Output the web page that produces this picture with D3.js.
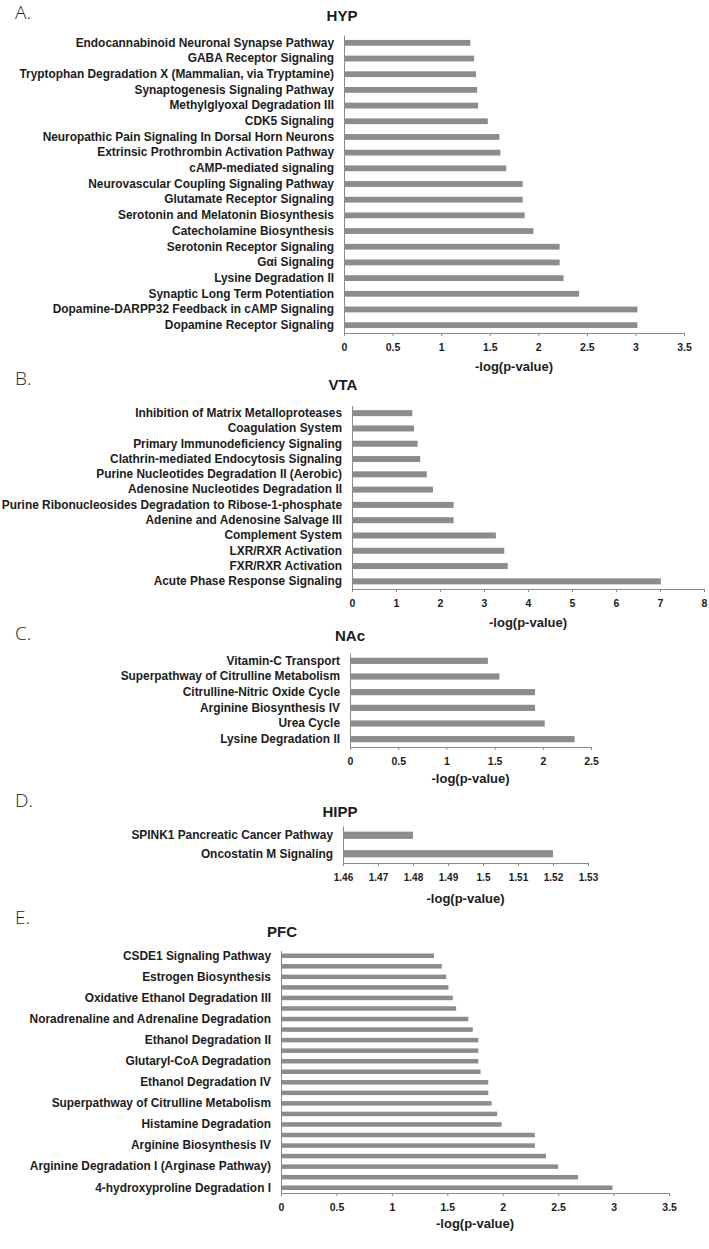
<!DOCTYPE html>
<html>
<head>
<meta charset="utf-8">
<script src="https://cdn.jsdelivr.net/npm/d3@7"></script>
<style>
  body { margin: 0; background: #fff; }
  svg text { font-family: "Liberation Sans", Arial, Helvetica, sans-serif; }
</style>
</head>
<body>
<svg id="fig" width="709" height="1249"></svg>
<script>
// ---- data (top to bottom, as in the figure) ----
var hypLabels = ["Endocannabinoid Neuronal Synapse Pathway", "GABA Receptor Signaling",
  "Tryptophan Degradation X (Mammalian, via Tryptamine)", "Synaptogenesis Signaling Pathway",
  "Methylglyoxal Degradation III", "CDK5 Signaling", "Neuropathic Pain Signaling In Dorsal Horn Neurons",
  "Extrinsic Prothrombin Activation Pathway", "cAMP-mediated signaling", "Neurovascular Coupling Signaling Pathway",
  "Glutamate Receptor Signaling", "Serotonin and Melatonin Biosynthesis", "Catecholamine Biosynthesis",
  "Serotonin Receptor Signaling", "G\u03b1i Signaling", "Lysine Degradation II", "Synaptic Long Term Potentiation",
  "Dopamine-DARPP32 Feedback in cAMP Signaling", "Dopamine Receptor Signaling"];
var hypValues = [1.30, 1.34, 1.36, 1.37, 1.38, 1.48, 1.60, 1.61, 1.67, 1.84, 1.84, 1.86, 1.95, 2.22, 2.22, 2.26, 2.42, 3.02, 3.02];
var hypTicks = [0, 0.5, 1, 1.5, 2, 2.5, 3, 3.5];

var vtaLabels = ["Inhibition of Matrix Metalloproteases", "Coagulation System", "Primary Immunodeficiency Signaling",
  "Clathrin-mediated Endocytosis Signaling", "Purine Nucleotides Degradation II (Aerobic)",
  "Adenosine Nucleotides Degradation II", "Purine Ribonucleosides Degradation to Ribose-1-phosphate",
  "Adenine and Adenosine Salvage III", "Complement System", "LXR/RXR Activation", "FXR/RXR Activation",
  "Acute Phase Response Signaling"];
var vtaValues = [1.37, 1.41, 1.49, 1.55, 1.70, 1.84, 2.31, 2.31, 3.27, 3.46, 3.54, 7.02];
var vtaTicks = [0, 1, 2, 3, 4, 5, 6, 7, 8];

var nacLabels = ["Vitamin-C Transport", "Superpathway of Citrulline Metabolism", "Citrulline-Nitric Oxide Cycle",
  "Arginine Biosynthesis IV", "Urea Cycle", "Lysine Degradation II"];
var nacValues = [1.43, 1.55, 1.92, 1.92, 2.02, 2.33];
var nacTicks = [0, 0.5, 1, 1.5, 2, 2.5];

var hippLabels = ["SPINK1 Pancreatic Cancer Pathway", "Oncostatin M Signaling"];
var hippValues = [1.48, 1.52];
var hippTicks = [1.46, 1.47, 1.48, 1.49, 1.5, 1.51, 1.52, 1.53];

// every second PFC category has no visible label in the figure
var pfcLabels = ["CSDE1 Signaling Pathway", "", "Estrogen Biosynthesis", "", "Oxidative Ethanol Degradation III", "",
  "Noradrenaline and Adrenaline Degradation", "", "Ethanol Degradation II", "", "Glutaryl-CoA Degradation", "",
  "Ethanol Degradation IV", "", "Superpathway of Citrulline Metabolism", "", "Histamine Degradation", "",
  "Arginine Biosynthesis IV", "", "Arginine Degradation I (Arginase Pathway)", "", "4-hydroxyproline Degradation I"];
var pfcValues = [1.38, 1.45, 1.49, 1.51, 1.55, 1.58, 1.69, 1.73, 1.78, 1.78, 1.78, 1.80, 1.87, 1.87, 1.90, 1.95, 1.99,
  2.29, 2.29, 2.39, 2.50, 2.68, 2.99];
var pfcTicks = [0, 0.5, 1, 1.5, 2, 2.5, 3, 3.5];

var svg = d3.select("#fig");
var barColor = "#8c8c8e", axisColor = "#8a8a8a", textColor = "#1c1c1c";

function drawPanel(p) {
  var g = svg.append("g");

  var x = d3.scaleLinear().domain([p.ticks[0], p.ticks[p.ticks.length - 1]]).range([p.x0, p.x1]);
  var y = d3.scaleBand().domain(d3.range(p.labels.length)).range([p.top, p.bottom]);

  // bars
  g.selectAll("rect.bar").data(p.values).enter().append("rect")
    .attr("class", "bar")
    .attr("x", x(p.ticks[0]))
    .attr("y", function (d, i) { return y(i) + y.bandwidth() / 2 - p.barH / 2; })
    .attr("width", function (d) { return x(d) - x(p.ticks[0]); })
    .attr("height", p.barH)
    .attr("fill", barColor);

  // x axis
  var xa = g.append("g")
    .attr("transform", "translate(0," + p.bottom + ")")
    .call(d3.axisBottom(x).tickValues(p.ticks).tickFormat(function (d) { return String(d); })
      .tickSizeInner(3).tickSizeOuter(0).tickPadding(8));
  xa.selectAll("text").attr("font-size", p.tickFont || 10.5).attr("font-weight", "bold").attr("fill", textColor);

  // y axis with category names
  var ya = g.append("g")
    .attr("transform", "translate(" + p.x0 + ",0)")
    .call(d3.axisLeft(y).tickSize(0).tickPadding(10).tickFormat(function (i) { return p.labels[i]; }));
  ya.selectAll("text").attr("font-size", 11.9).attr("font-weight", "bold").attr("fill", textColor);

  g.selectAll(".domain, .tick line").attr("stroke", axisColor);
  g.selectAll("g").attr("font-family", null);

  // panel title
  g.append("text").attr("x", p.titleX).attr("y", p.titleY)
    .attr("text-anchor", "middle").attr("font-size", 15).attr("font-weight", "bold")
    .attr("fill", textColor).text(p.title);

  // x axis title
  g.append("text").attr("x", (p.x0 + p.x1) / 2).attr("y", p.bottom + p.xtOff)
    .attr("text-anchor", "middle").attr("font-size", 13).attr("font-weight", "bold")
    .attr("fill", textColor).text("-log(p-value)");

  // panel letter
  svg.append("text").attr("x", 15).attr("y", p.letterY)
    .attr("font-size", 19).attr("font-weight", 300)
    .style("font-family", "'Open Sans', 'Liberation Sans', sans-serif")
    .attr("fill", "#222").text(p.letter);
}

drawPanel({ letter: "A.", letterY: 18.5, title: "HYP", titleX: 342, titleY: 20.5,
  labels: hypLabels, values: hypValues, ticks: hypTicks,
  x0: 344, x1: 684, top: 35, bottom: 333, barH: 5.8, xtOff: 37.5 });

drawPanel({ letter: "B.", letterY: 385, title: "VTA", titleX: 343, titleY: 390,
  labels: vtaLabels, values: vtaValues, ticks: vtaTicks,
  x0: 352, x1: 704, top: 405.5, bottom: 589, barH: 6, xtOff: 37.5 });

drawPanel({ letter: "C.", letterY: 640, title: "NAc", titleX: 350, titleY: 641,
  labels: nacLabels, values: nacValues, ticks: nacTicks,
  x0: 350, x1: 591, top: 653, bottom: 747, barH: 6.2, xtOff: 35.5 });

drawPanel({ letter: "D.", letterY: 806.5, title: "HIPP", titleX: 340, titleY: 817,
  labels: hippLabels, values: hippValues, ticks: hippTicks,
  x0: 343, x1: 588, top: 826, bottom: 863, barH: 7.2, xtOff: 39.5, tickFont: 10 });

drawPanel({ letter: "E.", letterY: 923.5, title: "PFC", titleX: 282, titleY: 937,
  labels: pfcLabels, values: pfcValues, ticks: pfcTicks,
  x0: 281, x1: 669, top: 950.5, bottom: 1193, barH: 4.5, xtOff: 34.5 });
</script>
</body>
</html>
